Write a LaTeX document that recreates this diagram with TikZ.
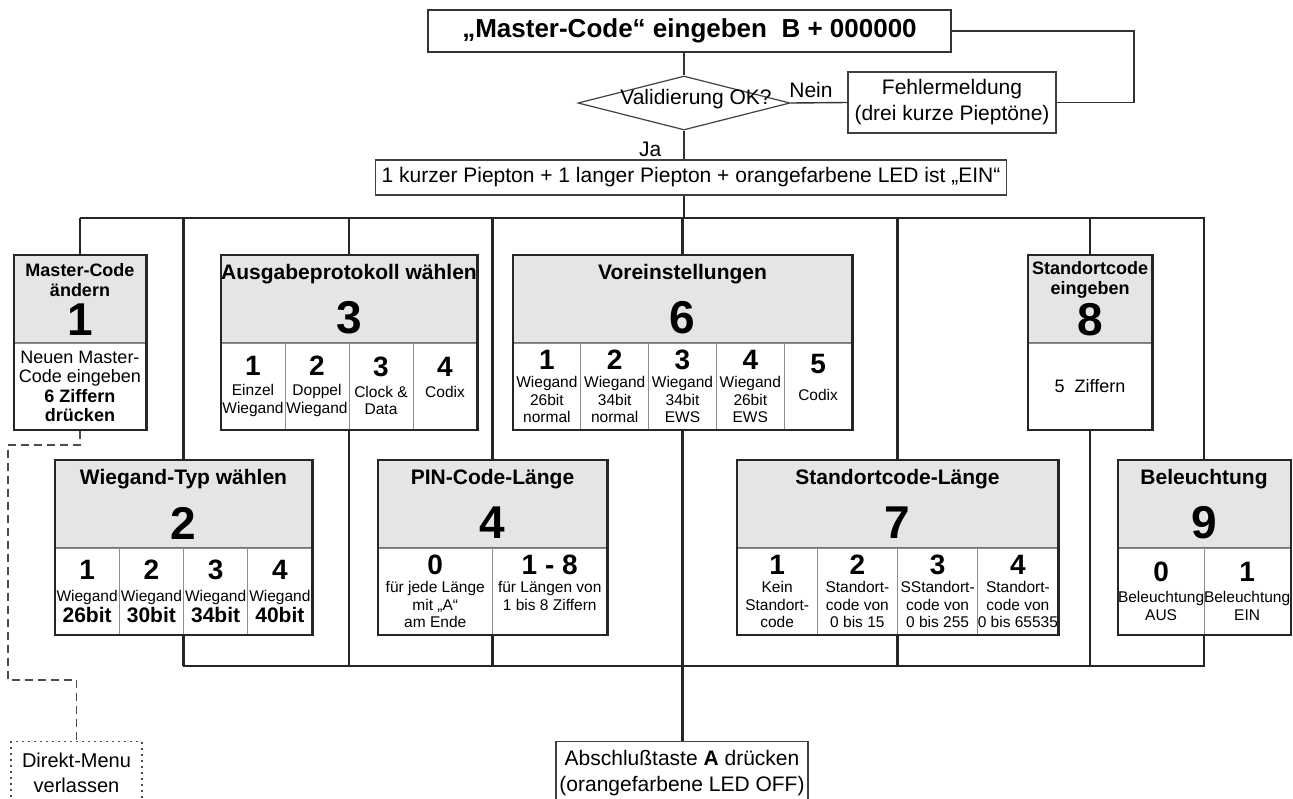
\documentclass[tikz,border=0pt]{standalone}
\usepackage{fontspec}
\setmainfont{Liberation Sans}
\usetikzlibrary{shapes.geometric,fit,positioning}

\newcommand{\maintxt}{\fontsize{10.5}{13}\selectfont}
\newcommand{\ttlfont}{\fontsize{10.5}{12}\selectfont\bfseries}
\newcommand{\subttl}{\fontsize{9}{10}\selectfont\bfseries}
\newcommand{\bignum}{\fontsize{23}{25}\selectfont\bfseries}
\newcommand{\cellnum}{\fontsize{14}{15}\selectfont\bfseries}
\newcommand{\celltxt}{\fontsize{7.75}{8.75}\selectfont}
\newcommand{\midtxt}{\fontsize{9}{9.75}\selectfont}
\newcommand{\bittxt}{\fontsize{10.5}{11}\selectfont\bfseries}

\begin{document}
\begin{tikzpicture}[x=0.5pt,y=-0.5pt,
  wire/.style={draw=black!85,line width=1.2pt},
  thin wire/.style={draw=black!80,line width=0.7pt},
  exit line/.style={draw=black!70,line width=0.6pt,dash pattern=on 4pt off 2.5pt},
  msgbox/.style={draw=black!75,line width=0.7pt,fill=white,align=center,font=\maintxt,inner sep=0pt},
  head/.style={draw=black!55,fill=black!10,line width=0.4pt,anchor=north,inner sep=0pt,minimum height=43.5pt},
  cell/.style={draw=black!45,fill=white,line width=0.4pt,anchor=north west,inner sep=0pt,minimum height=43pt,align=center,font=\celltxt},
  frame/.style={draw=black!85,line width=1.1pt,inner sep=0pt},
  ttl/.style={font=\ttlfont,inner sep=0pt,align=center},
  num/.style={font=\bignum,inner sep=0pt}
]
\useasboundingbox (0,0) rectangle (1293,798);
\clip (0,0) rectangle (1293,798);

% entry and check
\node[draw=black!80,line width=1pt,minimum width=261.5pt,minimum height=21pt,
  font=\fontsize{13}{15}\selectfont\bfseries] (top) at (689.5,31) {„Master-Code“ eingeben~~B + 000000};
\node[diamond,draw=black!75,line width=0.6pt,minimum width=106pt,minimum height=27pt,inner sep=0pt] (dia) at (684,103) {};
\node[font=\maintxt,inner sep=0pt] (dtxt) at ([xshift=6pt,yshift=2pt]dia.center) {Validierung OK?};
\node[msgbox,minimum width=104pt,minimum height=30.5pt] (err) at (952,102.5) {Fehlermeldung\\(drei kurze Pieptöne)};
\node[msgbox,minimum height=17.5pt,inner xsep=3pt] (led) at (691,177.5) {1 kurzer Piepton + 1 langer Piepton + orangefarbene LED ist „EIN“};
\coordinate (loop) at (1134,31);
\draw[thin wire] (top.east) -- (loop) |- (err.east);
\draw[thin wire] (dia.north |- top.south) -- (dia.north);
\draw[thin wire] (dia.east) -- node[above,font=\maintxt,inner sep=2pt,xshift=-4pt] (nein) {Nein} (err.west);
\draw[thin wire] (dia.south) -- (dia.south |- led.north) node[pos=0.65,left=11pt,font=\maintxt,inner sep=0pt] (ja) {Ja};

\coordinate (busL) at (80,218);
\coordinate (busR) at (1205,218);
\draw[wire] (led.south -| dia) -- (dia |- busL);
\draw[wire] (busL) -- (busR);

% 1
\node[head,minimum width=66pt] (h1) at (80,255) {};
\node[ttl,font=\subttl] (t1) at ([yshift=-12.5pt]h1.north) {Master-Code\\ändern};
\node[num] (n1) at ([yshift=-32.5pt]h1.north) {1};
\node[cell,minimum width=66pt,font=\midtxt] (c11) at (h1.south west) {Neuen Master-\\Code eingeben\\\textbf{6 Ziffern}\\\textbf{drücken}};
\node[frame,fit=(h1)(c11)] (b1) {};

% 3
\node[head,minimum width=128pt] (h3) at (349,255) {};
\node[ttl] (t3) at ([yshift=-9.5pt]h3.north) {Ausgabeprotokoll wählen};
\node[num] (n3) at ([yshift=-31.5pt]h3.north) {3};
\foreach \txt [count=\i] in {{{\cellnum 1}\\[1.5pt]Einzel\\Wiegand},{{\cellnum 2}\\[1.5pt]Doppel\\Wiegand},
    {{\cellnum 3}\\[1.5pt]Clock \&\\Data},{{\cellnum 4}\\[1.5pt]Codix\\~}}
  \node[cell,minimum width=32pt,xshift={(\i-1)*32pt}] (c3\i) at (h3.south west) {\txt};
\node[frame,fit=(h3)(c31)(c34)] (b3) {};

% 6
\node[head,minimum width=169.5pt] (h6) at (682.5,255) {};
\node[ttl] (t6) at ([yshift=-9.5pt]h6.north) {Voreinstellungen};
\node[num] (n6) at ([yshift=-31.5pt]h6.north) {6};
\foreach \txt [count=\i] in {{{\cellnum 1}\\[0.5pt]Wiegand\\26bit\\normal},{{\cellnum 2}\\[0.5pt]Wiegand\\34bit\\normal},
    {{\cellnum 3}\\[0.5pt]Wiegand\\34bit\\EWS},{{\cellnum 4}\\[0.5pt]Wiegand\\26bit\\EWS},{{\cellnum 5}\\[5pt]Codix\\~}}
  \node[cell,minimum width=33.9pt,xshift={(\i-1)*33.9pt}] (c6\i) at (h6.south west) {\txt};
\node[frame,fit=(h6)(c61)(c65)] (b6) {};

% 8
\node[head,minimum width=62pt] (h8) at (1090,255) {};
\node[ttl,font=\subttl] (t8) at ([yshift=-12.5pt]h8.north) {Standortcode\\eingeben};
\node[num] (n8) at ([yshift=-32.5pt]h8.north) {8};
\node[cell,minimum width=62pt,font=\midtxt] (c81) at (h8.south west) {5~~Ziffern};
\node[frame,fit=(h8)(c81)] (b8) {};

% 2
\node[head,minimum width=128.5pt] (h2) at (183.5,460) {};
\node[ttl] (t2) at ([yshift=-9.5pt]h2.north) {Wiegand-Typ wählen};
\node[num] (n2) at ([yshift=-31.5pt]h2.north) {2};
\foreach \txt [count=\i] in {{{\cellnum 1}\\[2.5pt]Wiegand\\{\bittxt 26bit}},{{\cellnum 2}\\[2.5pt]Wiegand\\{\bittxt 30bit}},
    {{\cellnum 3}\\[2.5pt]Wiegand\\{\bittxt 34bit}},{{\cellnum 4}\\[2.5pt]Wiegand\\{\bittxt 40bit}}}
  \node[cell,minimum width=32.125pt,xshift={(\i-1)*32.125pt}] (c2\i) at (h2.south west) {\txt};
\node[frame,fit=(h2)(c21)(c24)] (b2) {};

% 4
\node[head,minimum width=114.5pt] (h4) at (492.5,460) {};
\node[ttl] (t4) at ([yshift=-9.5pt]h4.north) {PIN-Code-Länge};
\node[num] (n4) at ([yshift=-31.5pt]h4.north) {4};
\foreach \txt [count=\i] in {{{\cellnum 0}\\[0.5pt]für jede Länge\\mit „A“\\am Ende},
    {{\cellnum 1 - 8}\\[0.5pt]für Längen von\\1 bis 8 Ziffern\\~}}
  \node[cell,minimum width=57.25pt,xshift={(\i-1)*57.25pt}] (c4\i) at (h4.south west) {\txt};
\node[frame,fit=(h4)(c41)(c42)] (b4) {};

% 7
\node[head,minimum width=160.5pt] (h7) at (897.5,460) {};
\node[ttl] (t7) at ([yshift=-9.5pt]h7.north) {Standortcode-Länge};
\node[num] (n7) at ([yshift=-31.5pt]h7.north) {7};
\foreach \txt [count=\i] in {{{\cellnum 1}\\[0.5pt]Kein\\Standort-\\code},{{\cellnum 2}\\[0.5pt]Standort-\\code von\\0 bis 15},
    {{\cellnum 3}\\[0.5pt]SStandort-\\code von\\0 bis 255},{{\cellnum 4}\\[0.5pt]Standort-\\code von\\0 bis 65535}}
  \node[cell,minimum width=40.125pt,xshift={(\i-1)*40.125pt}] (c7\i) at (h7.south west) {\txt};
\node[frame,fit=(h7)(c71)(c74)] (b7) {};

% 9
\node[head,minimum width=86pt] (h9) at (1204,460) {};
\node[ttl] (t9) at ([yshift=-9.5pt]h9.north) {Beleuchtung};
\node[num] (n9) at ([yshift=-31.5pt]h9.north) {9};
\foreach \txt [count=\i] in {{{\cellnum 0}\\[2pt]Beleuchtung\\AUS},{{\cellnum 1}\\[2pt]Beleuchtung\\EIN}}
  \node[cell,minimum width=43pt,xshift={(\i-1)*43pt}] (c9\i) at (h9.south west) {\txt};
\node[frame,fit=(h9)(c91)(c92)] (b9) {};

% branches
\foreach \b in {1,2,3,4,6,7,8,9}
  \draw[wire] (b\b.north |- busL) -- (b\b.north);
\coordinate (botL) at (183,666);
\coordinate (botR) at (1205,666);
\draw[wire] (botL) -- (botR);
\foreach \b in {2,3,4,6,7,8,9}
  \draw[wire] (b\b.south) -- (b\b.south |- botL);

% exits
\node[msgbox,minimum width=126pt,minimum height=31.5pt,anchor=north] (endbox) at (682,741) {Abschlußtaste \textbf{A} drücken\\(orangefarbene LED OFF)};
\draw[wire] (b6.south |- botL) -- (b6.south |- endbox.north);
\node[msgbox,draw=black!70,dash pattern=on 1pt off 2pt,minimum width=65.5pt,minimum height=31.5pt,anchor=north,
  font=\fontsize{10}{12.5}\selectfont] (exit) at (76.5,741) {Direkt-Menu\\verlassen};
\coordinate (dashA) at (8,445);
\coordinate (dashB) at (8,680);
\draw[exit line] (b1.south) |- (dashA) -- (dashB) -| (exit.north);
\end{tikzpicture}
\end{document}
